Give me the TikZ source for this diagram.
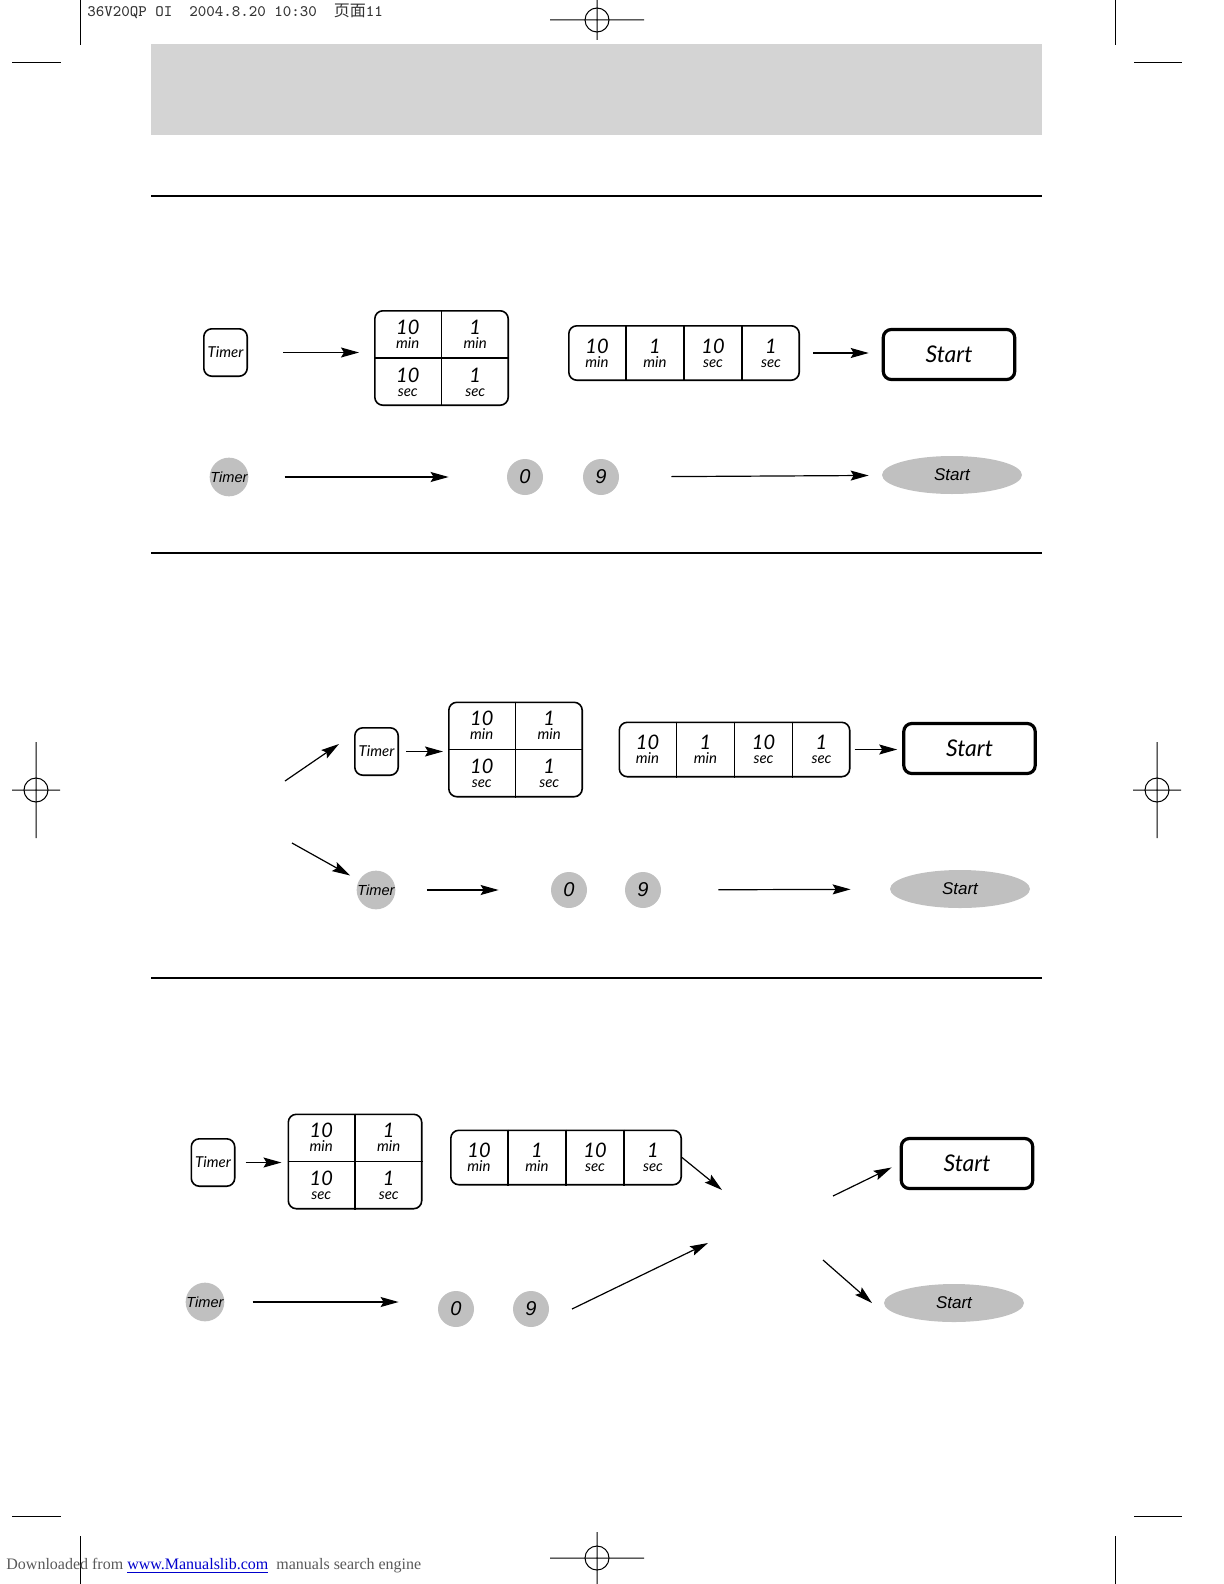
\documentclass[tikz,border=0pt]{standalone}
\usepackage{fontspec}
\usepackage{xcolor}
\usepackage{tikz}
\usetikzlibrary{calc,positioning,arrows.meta,shapes.geometric}
\setmainfont{Liberation Serif}
\newfontfamily\keyfont{Lato}
\newfontfamily\panelfont{Liberation Sans}
\newfontfamily\cjkfont{Noto Sans CJK SC}
\definecolor{bandgray}{RGB}{212,212,212}
\definecolor{btngray}{RGB}{192,192,192}
\definecolor{linkblue}{RGB}{0,0,204}

% two-line key label
\newcommand\cellpair[2]{{\fontsize{10}{7}\selectfont #1}\\{\fontsize{7.5}{7}\selectfont #2}}

% 2x2 key block
\newcommand\padgrid[2]{%
  \node[padbox, minimum width=66.7pt, minimum height=47.2pt] (#1) at (#2) {};
  \draw[padline] (#1.north) -- (#1.south) (#1.west) -- (#1.east);
  \node[celltxt] (#1-tl) at ($(#1.north west)!.25!(#1.south east)$) {\cellpair{10}{min}};
  \node[celltxt] (#1-tr) at ($(#1.north east)!.25!(#1.south west)$) {\cellpair{1}{min}};
  \node[celltxt] (#1-bl) at ($(#1.south west)!.25!(#1.north east)$) {\cellpair{10}{sec}};
  \node[celltxt] (#1-br) at ($(#1.south east)!.25!(#1.north west)$) {\cellpair{1}{sec}};
}

% 1x4 key row
\newcommand\padrow[2]{%
  \node[padbox, minimum width=115.2pt, minimum height=27.2pt] (#1) at (#2) {};
  \foreach \f in {.25,.5,.75}
    \draw[padline] ($(#1.north west)!\f!(#1.north east)$) -- ($(#1.south west)!\f!(#1.south east)$);
  \foreach \f/\n/\u [count=\i] in {.125/10/min,.375/1/min,.625/10/sec,.875/1/sec}
    \node[celltxt] (#1-\i) at ($(#1.west)!\f!(#1.east)$) {\cellpair{\n}{\u}};
}

\begin{document}
\begin{tikzpicture}[x=0.5pt,y=-0.5pt,
    padbox/.style={draw, rounded corners=4pt, line width=0.8pt, inner sep=0pt},
    padline/.style={line width=0.8pt},
    celltxt/.style={align=center, inner sep=0pt, font=\keyfont\itshape\fontsize{10}{7}\selectfont},
    timerkey/.style={draw, rounded corners=4pt, line width=0.8pt, minimum width=21.7pt,
      minimum height=23.7pt, inner sep=0pt, font=\keyfont\itshape\fontsize{7.5}{8}\selectfont},
    startkey/.style={draw, rounded corners=4pt, line width=1.6pt, minimum width=65.7pt,
      minimum height=25pt, inner sep=0pt, font=\keyfont\itshape\fontsize{11.5}{12}\selectfont},
    dial/.style={circle, fill=btngray, minimum size=18pt, inner sep=0pt,
      font=\panelfont\itshape\fontsize{10}{10}\selectfont},
    dialtimer/.style={dial, font=\panelfont\itshape\fontsize{7.3}{8}\selectfont},
    startdial/.style={ellipse, fill=btngray, minimum width=70pt, minimum height=19pt,
      inner sep=0pt, font=\panelfont\itshape\fontsize{8.5}{9}\selectfont},
    arr/.style={-{Stealth[length=9pt,width=5pt,inset=1.5pt]}, line width=0.6pt},
    rule/.style={line width=0.8pt},
    cropline/.style={line width=0.5pt}]
  \useasboundingbox (0,0) rectangle (1224,1584);

  % print marks
  \draw[cropline] (80,0) -- (80,45) (12,63) -- (61,63);
  \draw[cropline] (1115,0) -- (1115,45) (1134,63) -- (1182,63);
  \draw[cropline] (12,1516) -- (61,1516) (80,1536) -- (80,1584);
  \draw[cropline] (1134,1516) -- (1182,1516) (1115,1536) -- (1115,1584);
  \foreach \cx/\cy/\hl/\vl in {597/20/47/20, 597/1558/47/26, 36/790/24/48, 1157/790/24/48}
    \draw[cropline] (\cx,\cy) circle[radius=12] (\cx-\hl,\cy) -- (\cx+\hl,\cy)
      (\cx,\cy-\vl) -- (\cx,\cy+\vl);
  \node[anchor=west, inner sep=0pt, text=black!80, font=\ttfamily\fontsize{8}{9}\selectfont]
    (stamp) at (87,11) {36V20QP OI\ \ 2004.8.20 10:30\ \ {\cjkfont 页面}11};

  % title band and rules
  \fill[bandgray] (151,44) rectangle (1042,135);
  \draw[rule] (151,196) -- (1042,196);
  \draw[rule] (151,553) -- (1042,553);
  \draw[rule] (151,978) -- (1042,978);

  % first panel
  \node[timerkey] (t1) at (225.5,352.5) {Timer};
  \padgrid{g1}{441.5,358}
  \padrow{r1}{684,353}
  \node[startkey] (s1) at (949,354.5) {Start};
  \node[dialtimer] (c1) at (229,477) {Timer};
  \node[dial] (z1) at (525,477) {0};
  \node[dial] (n1) at (601,477) {9};
  \node[startdial] (e1) at (952,475) {Start};
  \draw[arr, shorten <=17.5pt, shorten >=7.5pt] (t1.east) -- (t1.east -| g1.west);
  \draw[arr, shorten <=6.5pt, shorten >=6.5pt] (r1.east) -- (r1.east -| s1.west);
  \draw[arr, shorten <=18pt, shorten >=29pt] (c1) -- (z1);
  \draw[arr, shorten <=26pt, shorten >=6.5pt] (n1) -- (e1);

  % second panel
  \coordinate (u2) at (285,781);
  \coordinate (u2e) at (339,744);
  \coordinate (d2) at (292,843);
  \node[timerkey] (t2) at (376.5,751.5) {Timer};
  \padgrid{g2}{515.5,749.5}
  \padrow{r2}{734.5,749.5}
  \node[startkey] (s2) at (969.5,748.5) {Start};
  \node[dialtimer] (c2) at (376,890) {Timer};
  \node[dial] (z2) at (569,890) {0};
  \node[dial] (n2) at (643,890) {9};
  \node[startdial] (e2) at (960,889) {Start};
  \draw[arr] (u2) -- (u2e);
  \draw[arr, shorten <=3.5pt, shorten >=2.5pt] (t2.east) -- (t2.east -| g2.west);
  \draw[arr, shorten <=2pt, shorten >=2.5pt] (r2.east) -- (r2.east -| s2.west);
  \draw[arr, shorten >=5pt] (d2) -- (c2);
  \draw[arr, shorten <=15.5pt, shorten >=26pt] (c2) -- (z2);
  \draw[arr, shorten <=28.5pt, shorten >=19.5pt] (n2) -- (e2);

  % third panel
  \node[timerkey] (t3) at (213,1162.5) {Timer};
  \padgrid{g3}{355,1161.5}
  \padrow{r3}{566,1157.5}
  \node[startkey] (s3) at (967,1163.5) {Start};
  \node[dialtimer] (c3) at (205,1302) {Timer};
  \node[dial] (z3) at (456,1309) {0};
  \node[dial] (n3) at (531,1309) {9};
  \node[startdial] (e3) at (954,1303) {Start};
  \coordinate (j3) at (722,1190);
  \coordinate (k3) at (572,1309);
  \coordinate (k3e) at (708,1243);
  \coordinate (q3) at (833,1196);
  \coordinate (p3) at (823,1260);
  \coordinate (p3e) at (872,1303);
  \draw[arr, shorten <=5pt, shorten >=3pt] (t3.east) -- (t3.east -| g3.west);
  \draw[arr] (r3.east) -- (j3);
  \draw[arr, shorten <=14pt, shorten >=19.5pt] (c3) -- (c3 -| z3.west);
  \draw[arr] (k3) -- (k3e);
  \draw[arr, shorten >=4.5pt] (q3) -- (s3.west);
  \draw[arr] (p3) -- (p3e);

  % footer
  \node[anchor=west, inner sep=0pt, text=black!65, font=\fontsize{8}{9}\selectfont]
    (footer) at (6,1566) {Downloaded from \textcolor{linkblue}{\underline{www.Manualslib.com}}\ \ manuals search engine};
\end{tikzpicture}
\end{document}
